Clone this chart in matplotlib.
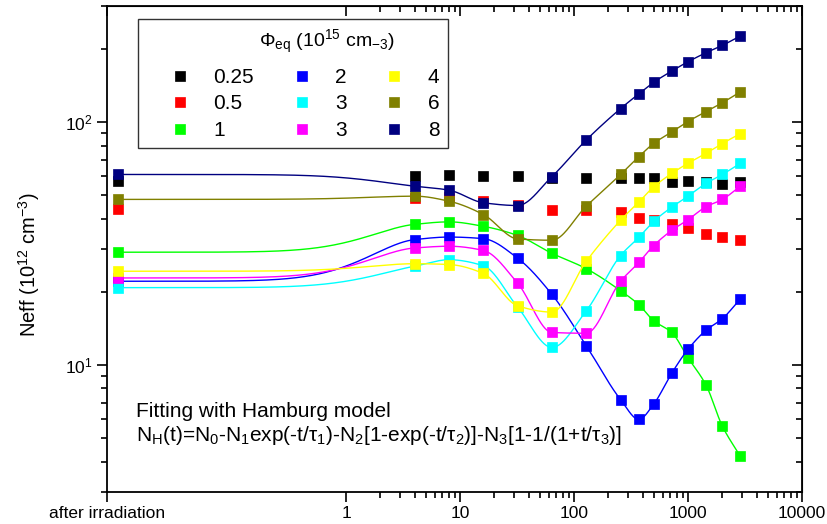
import numpy as np
import matplotlib
matplotlib.use("Agg")
import matplotlib.pyplot as plt
from matplotlib.ticker import FixedLocator, FixedFormatter, LogLocator, NullFormatter

plt.rcParams['font.family'] = ['Liberation Sans', 'DejaVu Sans']
plt.rcParams['mathtext.default'] = 'regular'

# annealing time (min); 0.01 stands for "after irradiation"
t_vals = [0.01, 4, 8, 16, 32, 64, 128, 256, 370, 500, 720, 1000, 1440, 2000, 2880]

# Neff (1e12 cm^-3) for each fluence
n_025 = [57, 59.7, 60.3, 59.7, 59.7, 58.6, 58.6, 58.6, 58.6, 58.6, 56.4, 56.9, 56.4, 55.3, 56.4]
n_05 = [44, 48.5, 49, 47.5, 45.5, 43.6, 43.6, 42.4, 40.4, 39.6, 38.2, 36.7, 34.7, 33.7, 32.8]
n_1 = [29.1, 37.9, 38.8, 37.2, 34.1, 28.8, 24.9, 20.2, 17.7, 15.2, 13.6, 10.7, 8.25, 5.6, 4.2]
n_2 = [22.1, 32.8, 33.6, 33.1, 27.5, 19.5, 12.0, 7.2, 5.97, 6.9, 9.25, 11.6, 13.9, 15.5, 18.7]
n_3a = [20.8, 25.5, 27.1, 25.6, 17.3, 11.8, 16.7, 28.2, 33.5, 39, 44.6, 49.5, 55.9, 60.8, 67.6]
n_3b = [22.8, 30.3, 30.8, 29.6, 21.7, 13.6, 13.5, 22.1, 26.4, 31, 35.8, 39.6, 44.8, 48, 54.4]
n_4 = [24.3, 26.1, 25.9, 23.8, 17.5, 16.5, 26.7, 39.4, 46.8, 54.1, 61.4, 67.6, 74.3, 81.5, 89.6]
n_6 = [48, 49.5, 47.2, 41.6, 33.0, 32.6, 45, 60.8, 72, 81.6, 91, 100.4, 110.4, 120, 133]
n_8 = [60.8, 54.4, 52.4, 46.5, 45.3, 59.6, 84.3, 113.5, 130.5, 145.6, 162, 176.9, 192.8, 206.6, 225.9]

labels = ['0.25', '0.5', '1', '2', '3', '3', '4', '6', '8']
colors = ['#000000', '#ff0000', '#00ff00', '#0000ff', '#00ffff', '#ff00ff', '#ffff00', '#808000', '#000080']
series = [n_025, n_05, n_1, n_2, n_3a, n_3b, n_4, n_6, n_8]
has_fit = [False, False, True, True, True, True, True, True, True]

x_ticks = [0.008, 1, 10, 100, 1000, 10000]
x_tick_labels = ['after irradiation', '1', '10', '100', '1000', '10000']


def pchip(x, y, xn):
    # monotone cubic hermite curve through the points
    x = np.asarray(x, float)
    y = np.asarray(y, float)
    h = np.diff(x)
    dl = np.diff(y) / h
    d = np.zeros_like(y)
    for k in range(1, len(x) - 1):
        if dl[k - 1] * dl[k] > 0:
            w1 = 2 * h[k] + h[k - 1]
            w2 = h[k] + 2 * h[k - 1]
            d[k] = (w1 + w2) / (w1 / dl[k - 1] + w2 / dl[k])
    d[0] = 0.0
    d[-1] = dl[-1]
    idx = np.clip(np.searchsorted(x, xn) - 1, 0, len(x) - 2)
    s = (xn - x[idx]) / h[idx]
    h00 = 2 * s**3 - 3 * s**2 + 1
    h10 = s**3 - 2 * s**2 + s
    h01 = -2 * s**3 + 3 * s**2
    h11 = s**3 - s**2
    return h00 * y[idx] + h10 * h[idx] * d[idx] + h01 * y[idx + 1] + h11 * h[idx] * d[idx + 1]


fig = plt.figure(figsize=(8.27, 5.24), dpi=100)
ax = fig.add_axes([0.1294, 0.0611, 0.8404, 0.9274])

t_arr = np.array(t_vals)
t_fine = np.logspace(np.log10(t_arr[0]), np.log10(t_arr[-1]), 600)
u = np.log10(t_arr + 1)
u_fine = np.log10(t_fine + 1)

for i, (vals, lab, col) in enumerate(zip(series, labels, colors)):
    if has_fit[i]:
        curve = 10 ** pchip(u, np.log10(vals), u_fine)
        ax.plot(t_fine, curve, color=col, lw=1.0, zorder=2 + 2 * i)
    ax.plot(t_vals, vals, 's', color=col, ms=7.8, mec=col, mew=0.5,
            label=lab, zorder=3 + 2 * i)

ax.set_xscale('log')
ax.set_yscale('log')
ax.set_xlim(0.008, 10000)
ax.set_ylim(3, 300)

ax.xaxis.set_major_locator(FixedLocator(x_ticks))
ax.xaxis.set_major_formatter(FixedFormatter(x_tick_labels))
minor_x = [m * 10**e for e in range(0, 4) for m in range(2, 10)]
ax.xaxis.set_minor_locator(FixedLocator(minor_x))
ax.xaxis.set_minor_formatter(NullFormatter())
ax.yaxis.set_major_locator(LogLocator(base=10, numticks=10))
ax.yaxis.set_minor_locator(LogLocator(base=10, subs=np.arange(2, 10), numticks=10))
ax.yaxis.set_minor_formatter(NullFormatter())

ax.tick_params(which='both', direction='out', labelsize=12.5, width=1.2, top=False, right=False)
ax.tick_params(which='major', length=7)
ax.tick_params(which='minor', length=4)
ax.tick_params(axis='x', pad=3)
for sp in ax.spines.values():
    sp.set_linewidth(1.3)

# mirrored ticks pointing inward on top and right
sec_x = ax.secondary_xaxis('top')
sec_x.set_xscale('log')
sec_x.xaxis.set_major_locator(FixedLocator(x_ticks))
sec_x.xaxis.set_minor_locator(FixedLocator(minor_x))
sec_x.tick_params(which='both', direction='in', labeltop=False, width=1.2)
sec_x.tick_params(which='major', length=7)
sec_x.tick_params(which='minor', length=4)
sec_y = ax.secondary_yaxis('right')
sec_y.yaxis.set_major_locator(LogLocator(base=10, numticks=10))
sec_y.yaxis.set_minor_locator(LogLocator(base=10, subs=np.arange(2, 10), numticks=10))
sec_y.tick_params(which='both', direction='in', labelright=False, width=1.2)
sec_y.tick_params(which='major', length=7)
sec_y.tick_params(which='minor', length=4)

ax.set_ylabel('Neff (10$^{12}$ cm$^{-3}$)', fontsize=14.5)
ax.yaxis.set_label_coords(-0.094, 0.467)

# legend: blank title keeps room, the real title is placed off-centre like the original
leg = ax.legend(ncol=3, loc='upper left', bbox_to_anchor=(0.0446, 0.973),
                borderaxespad=0, fontsize=15, frameon=True, fancybox=False,
                title=' ', title_fontsize=25,
                handlelength=3.2, handletextpad=0.0, columnspacing=0.7,
                labelspacing=0.36, borderpad=0.4, markerscale=1.0)
leg.get_frame().set_edgecolor('black')
leg.get_frame().set_linewidth(1.0)
ax.text(0.3165, 0.926, 'Φ$_{eq}$ (10$^{15}$ cm$_{-3}$)', transform=ax.transAxes,
        fontsize=14, ha='center', va='center', zorder=30)

ax.text(0.0417, 0.1646, 'Fitting with Hamburg model', transform=ax.transAxes,
        fontsize=15, va='center', ha='left')
ax.text(0.0417, 0.117,
        'N$_H$(t)=N$_0$-N$_1$exp(-t/τ$_1$)-N$_2$[1-exp(-t/τ$_2$)]-N$_3$[1-1/(1+t/τ$_3$)]',
        transform=ax.transAxes, fontsize=15, va='center', ha='left')

fig.savefig('out.png', dpi=100)
